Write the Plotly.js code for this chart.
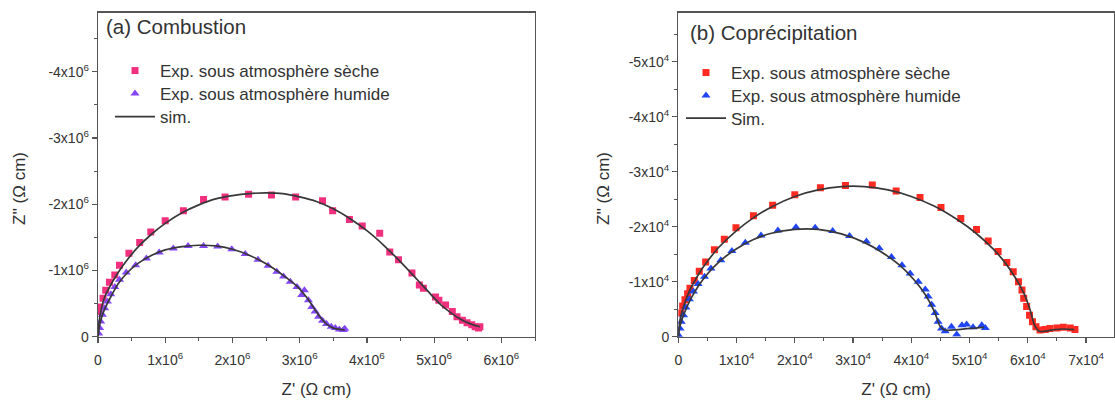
<!DOCTYPE html>
<html><head><meta charset="utf-8">
<script src="https://cdn.plot.ly/plotly-3.0.1.min.js"></script>
<style>html,body{margin:0;padding:0;background:#fff}#chart{width:1115px;height:401px}</style>
</head><body><div id="chart"></div>
<script>
// ---------- (a) Combustion : Z' in 10^6 Ω cm, Z'' in 10^6 Ω cm ----------
const combDryX = [0.01,0.035,0.075,0.115,0.17,0.25,0.32,0.46,0.62,0.785,1.0,1.27,1.57,1.89,2.24,2.58,2.94,3.34,3.49,3.74,3.93,4.19,4.34,4.47,4.67,4.78,4.84,5.02,5.07,5.17,5.27,5.34,5.42,5.49,5.56,5.61,5.66,5.68];
const combDryY = [-0.38,-0.45,-0.58,-0.70,-0.82,-0.93,-1.08,-1.26,-1.42,-1.58,-1.75,-1.90,-2.07,-2.11,-2.15,-2.14,-2.11,-2.05,-1.90,-1.77,-1.67,-1.56,-1.28,-1.16,-0.96,-0.78,-0.73,-0.60,-0.55,-0.48,-0.38,-0.30,-0.25,-0.21,-0.18,-0.15,-0.13,-0.15];
const combHumX = [0.01,0.025,0.04,0.065,0.1,0.14,0.19,0.25,0.32,0.42,0.56,0.72,0.91,1.12,1.34,1.57,1.78,1.99,2.19,2.38,2.53,2.66,2.76,2.86,2.96,3.07,3.03,3.13,3.18,3.23,3.28,3.34,3.40,3.47,3.53,3.59,3.65,3.67];
const combHumY = [-0.05,-0.13,-0.23,-0.33,-0.43,-0.53,-0.64,-0.75,-0.86,-0.97,-1.08,-1.18,-1.27,-1.33,-1.37,-1.37,-1.36,-1.32,-1.25,-1.16,-1.07,-0.98,-0.91,-0.83,-0.75,-0.70,-0.63,-0.55,-0.45,-0.38,-0.30,-0.24,-0.19,-0.15,-0.13,-0.11,-0.10,-0.12];
const combDrySimX = [0,0.02,0.05,0.1,0.2,0.3,0.45,0.6,0.8,1.0,1.25,1.5,1.75,2.0,2.25,2.5,2.75,3.0,3.25,3.5,3.75,4.0,4.25,4.5,4.75,4.95,5.1,5.25,5.4,5.55,5.68];
const combDrySimY = [0,-0.25,-0.42,-0.6,-0.8,-0.97,-1.18,-1.36,-1.55,-1.71,-1.87,-1.99,-2.08,-2.13,-2.16,-2.17,-2.16,-2.11,-2.04,-1.93,-1.78,-1.60,-1.38,-1.13,-0.86,-0.64,-0.48,-0.36,-0.26,-0.19,-0.15];
const combHumSimX = [0,0.02,0.05,0.1,0.2,0.3,0.45,0.6,0.8,1.0,1.25,1.5,1.75,2.0,2.25,2.5,2.75,2.95,3.1,3.2,3.3,3.4,3.5,3.6,3.67];
const combHumSimY = [0,-0.15,-0.28,-0.42,-0.62,-0.80,-0.98,-1.11,-1.23,-1.31,-1.36,-1.38,-1.37,-1.32,-1.23,-1.10,-0.93,-0.77,-0.60,-0.45,-0.30,-0.19,-0.13,-0.11,-0.10];

// ---------- (b) Coprécipitation : Z' in 10^4 Ω cm, Z'' in 10^4 Ω cm ----------
const copDryX = [0.04,0.075,0.115,0.16,0.2,0.275,0.36,0.47,0.62,0.79,0.99,1.29,1.62,2.0,2.44,2.87,3.33,3.74,4.15,4.51,4.85,5.12,5.32,5.49,5.64,5.75,5.84,5.90,5.93,5.98,6.03,6.08,6.14,6.21,6.30,6.38,6.50,6.61,6.73,6.81];
const copDryY = [-0.43,-0.56,-0.67,-0.78,-0.88,-1.02,-1.19,-1.36,-1.58,-1.77,-1.98,-2.20,-2.39,-2.58,-2.71,-2.75,-2.76,-2.65,-2.53,-2.35,-2.15,-1.95,-1.74,-1.55,-1.35,-1.18,-1.00,-0.85,-0.70,-0.55,-0.39,-0.27,-0.18,-0.12,-0.13,-0.15,-0.16,-0.17,-0.16,-0.13];
const copHumX = [0.01,0.03,0.05,0.09,0.13,0.19,0.26,0.34,0.45,0.56,0.73,0.92,1.15,1.42,1.71,2.02,2.35,2.65,2.94,3.23,3.45,3.66,3.84,3.98,4.12,4.24,4.29,4.35,4.41,4.46,4.52,4.58,4.69,4.78,4.87,4.95,5.06,5.21,5.27];
const copHumY = [-0.02,-0.15,-0.27,-0.39,-0.53,-0.68,-0.82,-0.96,-1.09,-1.24,-1.39,-1.56,-1.71,-1.84,-1.93,-1.99,-1.98,-1.92,-1.83,-1.73,-1.61,-1.45,-1.30,-1.15,-1.00,-0.86,-0.73,-0.58,-0.43,-0.27,-0.15,-0.10,-0.18,-0.04,-0.21,-0.22,-0.17,-0.21,-0.16];
const copDrySimX = [0,0.02,0.05,0.1,0.2,0.35,0.5,0.7,1.0,1.3,1.6,2.0,2.4,2.8,3.2,3.6,4.0,4.4,4.8,5.1,5.4,5.6,5.8,5.95,6.05,6.12,6.2,6.4,6.6,6.8];
const copDrySimY = [0,-0.25,-0.40,-0.58,-0.85,-1.14,-1.37,-1.63,-1.93,-2.17,-2.36,-2.55,-2.67,-2.73,-2.73,-2.67,-2.55,-2.37,-2.12,-1.89,-1.60,-1.36,-1.05,-0.75,-0.45,-0.20,-0.10,-0.12,-0.14,-0.13];
const copHumSimX = [0,0.02,0.05,0.1,0.2,0.35,0.5,0.7,1.0,1.3,1.6,2.0,2.4,2.8,3.2,3.5,3.8,4.05,4.25,4.4,4.5,4.58,4.8,5.0,5.25];
const copHumSimY = [0,-0.15,-0.27,-0.42,-0.66,-0.93,-1.14,-1.36,-1.60,-1.77,-1.88,-1.95,-1.95,-1.87,-1.71,-1.53,-1.30,-1.03,-0.75,-0.45,-0.18,-0.12,-0.13,-0.15,-0.17];

// ---------- tick labels ----------
const combXTickVals = [0,1,2,3,4,5,6];
const combXTickText = ['0','1x10<sup>6</sup>','2x10<sup>6</sup>','3x10<sup>6</sup>','4x10<sup>6</sup>','5x10<sup>6</sup>','6x10<sup>6</sup>'];
const combYTickVals = [0,-1,-2,-3,-4];
const combYTickText = ['0','-1x10<sup>6</sup>','-2x10<sup>6</sup>','-3x10<sup>6</sup>','-4x10<sup>6</sup>'];
const copXTickVals = [0,1,2,3,4,5,6,7];
const copXTickText = ['0','1x10<sup>4</sup>','2x10<sup>4</sup>','3x10<sup>4</sup>','4x10<sup>4</sup>','5x10<sup>4</sup>','6x10<sup>4</sup>','7x10<sup>4</sup>'];
const copYTickVals = [0,-1,-2,-3,-4,-5];
const copYTickText = ['0','-1x10<sup>4</sup>','-2x10<sup>4</sup>','-3x10<sup>4</sup>','-4x10<sup>4</sup>','-5x10<sup>4</sup>'];

const seriesNames = ['Exp. sous atmosphère sèche','Exp. sous atmosphère humide'];

const FONT = '"Liberation Sans", Arial, sans-serif';
const TXT = '#333333';
const SIM = '#383838';

const traces = [
  {x:combDryX, y:combDryY, type:'scatter', mode:'markers', name:seriesNames[0], xaxis:'x', yaxis:'y', legend:'legend',
   marker:{symbol:'square', size:7, color:'#f0307f'}},
  {x:combHumX, y:combHumY, type:'scatter', mode:'markers', name:seriesNames[1], xaxis:'x', yaxis:'y', legend:'legend2',
   marker:{symbol:'triangle-up', size:8, color:'#8446f7'}},
  {x:combDrySimX, y:combDrySimY, type:'scatter', mode:'lines', name:'sim.', xaxis:'x', yaxis:'y', legend:'legend3',
   line:{color:SIM, width:1.7, shape:'spline'}},
  {x:combHumSimX, y:combHumSimY, type:'scatter', mode:'lines', name:'sim.', xaxis:'x', yaxis:'y', showlegend:false,
   line:{color:SIM, width:1.7, shape:'spline'}},

  {x:copDryX, y:copDryY, type:'scatter', mode:'markers', name:seriesNames[0], xaxis:'x2', yaxis:'y2', legend:'legend4',
   marker:{symbol:'square', size:7, color:'#ff2a22'}},
  {x:copHumX, y:copHumY, type:'scatter', mode:'markers', name:seriesNames[1], xaxis:'x2', yaxis:'y2', legend:'legend5',
   marker:{symbol:'triangle-up', size:8, color:'#1f45f5'}},
  {x:copDrySimX, y:copDrySimY, type:'scatter', mode:'lines', name:'Sim.', xaxis:'x2', yaxis:'y2', legend:'legend6',
   line:{color:SIM, width:1.7, shape:'spline'}},
  {x:copHumSimX, y:copHumSimY, type:'scatter', mode:'lines', name:'Sim.', xaxis:'x2', yaxis:'y2', showlegend:false,
   line:{color:SIM, width:1.7, shape:'spline'}}
];

function ax(extra){
  return Object.assign({
    showline:true, linecolor:'#555', linewidth:1.3, mirror:true,
    ticks:'outside', ticklen:5, tickwidth:1.2, tickcolor:'#555',
    showgrid:false, zeroline:false, tickmode:'array',
    tickfont:{family:FONT, size:14, color:TXT},
    minor:{ticks:'outside', ticklen:3, tickwidth:1, tickcolor:'#555', tickmode:'linear', tick0:0, dtick:0.5}
  }, extra);
}

const W = 1115, H = 401;
const yDom = [1-336.7/H, 1-12.7/H];
const LEGFONT = {family:FONT, size:17, color:TXT};
function leg(xpx, ycpx){
  return {x:xpx/W, y:1-ycpx/H, xanchor:'left', yanchor:'middle', bgcolor:'rgba(0,0,0,0)',
          font:LEGFONT, itemwidth:40, borderwidth:0};
}

const layout = {
  width:W, height:H, margin:{l:0,r:0,t:0,b:0},
  paper_bgcolor:'#fff', plot_bgcolor:'#fff',
  font:{family:FONT, color:TXT},
  xaxis: ax({domain:[98/W, 535/W], range:[0,6.5], anchor:'y', tickvals:combXTickVals, ticktext:combXTickText,
    ticklabelstandoff:5, title:{text:"Z' (Ω cm)", font:{family:FONT, size:17, color:TXT}, standoff:16}}),
  yaxis: ax({domain:yDom, range:[0,-4.89], anchor:'x', tickvals:combYTickVals, ticktext:combYTickText}),
  xaxis2: ax({domain:[678.3/W, 1114/W], range:[0,7.48], anchor:'y2', tickvals:copXTickVals, ticktext:copXTickText,
    ticklabelstandoff:5, title:{text:"Z' (Ω cm)", font:{family:FONT, size:17, color:TXT}, standoff:16}}),
  yaxis2: ax({domain:yDom, range:[0,-5.89], anchor:'x2', tickvals:copYTickVals, ticktext:copYTickText}),
  showlegend:true,
  legend: leg(110, 71),
  legend2: leg(110, 94),
  legend3: leg(110, 117),
  legend4: leg(681, 73),
  legend5: leg(681, 96),
  legend6: leg(681, 118.5),
  annotations:[
    {text:'(a) Combustion', xref:'paper', yref:'paper', x:104/W, y:1-26.7/H, xanchor:'left', yanchor:'middle',
     showarrow:false, font:{family:FONT, size:20.5, color:TXT}},
    {text:'(b) Coprécipitation', xref:'paper', yref:'paper', x:688/W, y:1-32.3/H, xanchor:'left', yanchor:'middle',
     showarrow:false, font:{family:FONT, size:20.5, color:TXT}},
    {text:"Z'' (Ω cm)", xref:'paper', yref:'paper', x:19/W, y:1-189/H, xanchor:'center', yanchor:'middle',
     textangle:-90, showarrow:false, font:{family:FONT, size:17, color:TXT}},
    {text:"Z'' (Ω cm)", xref:'paper', yref:'paper', x:603/W, y:1-189/H, xanchor:'center', yanchor:'middle',
     textangle:-90, showarrow:false, font:{family:FONT, size:17, color:TXT}}
  ]
};

Plotly.newPlot('chart', traces, layout, {displayModeBar:false, staticPlot:true});
</script>
</body></html>
